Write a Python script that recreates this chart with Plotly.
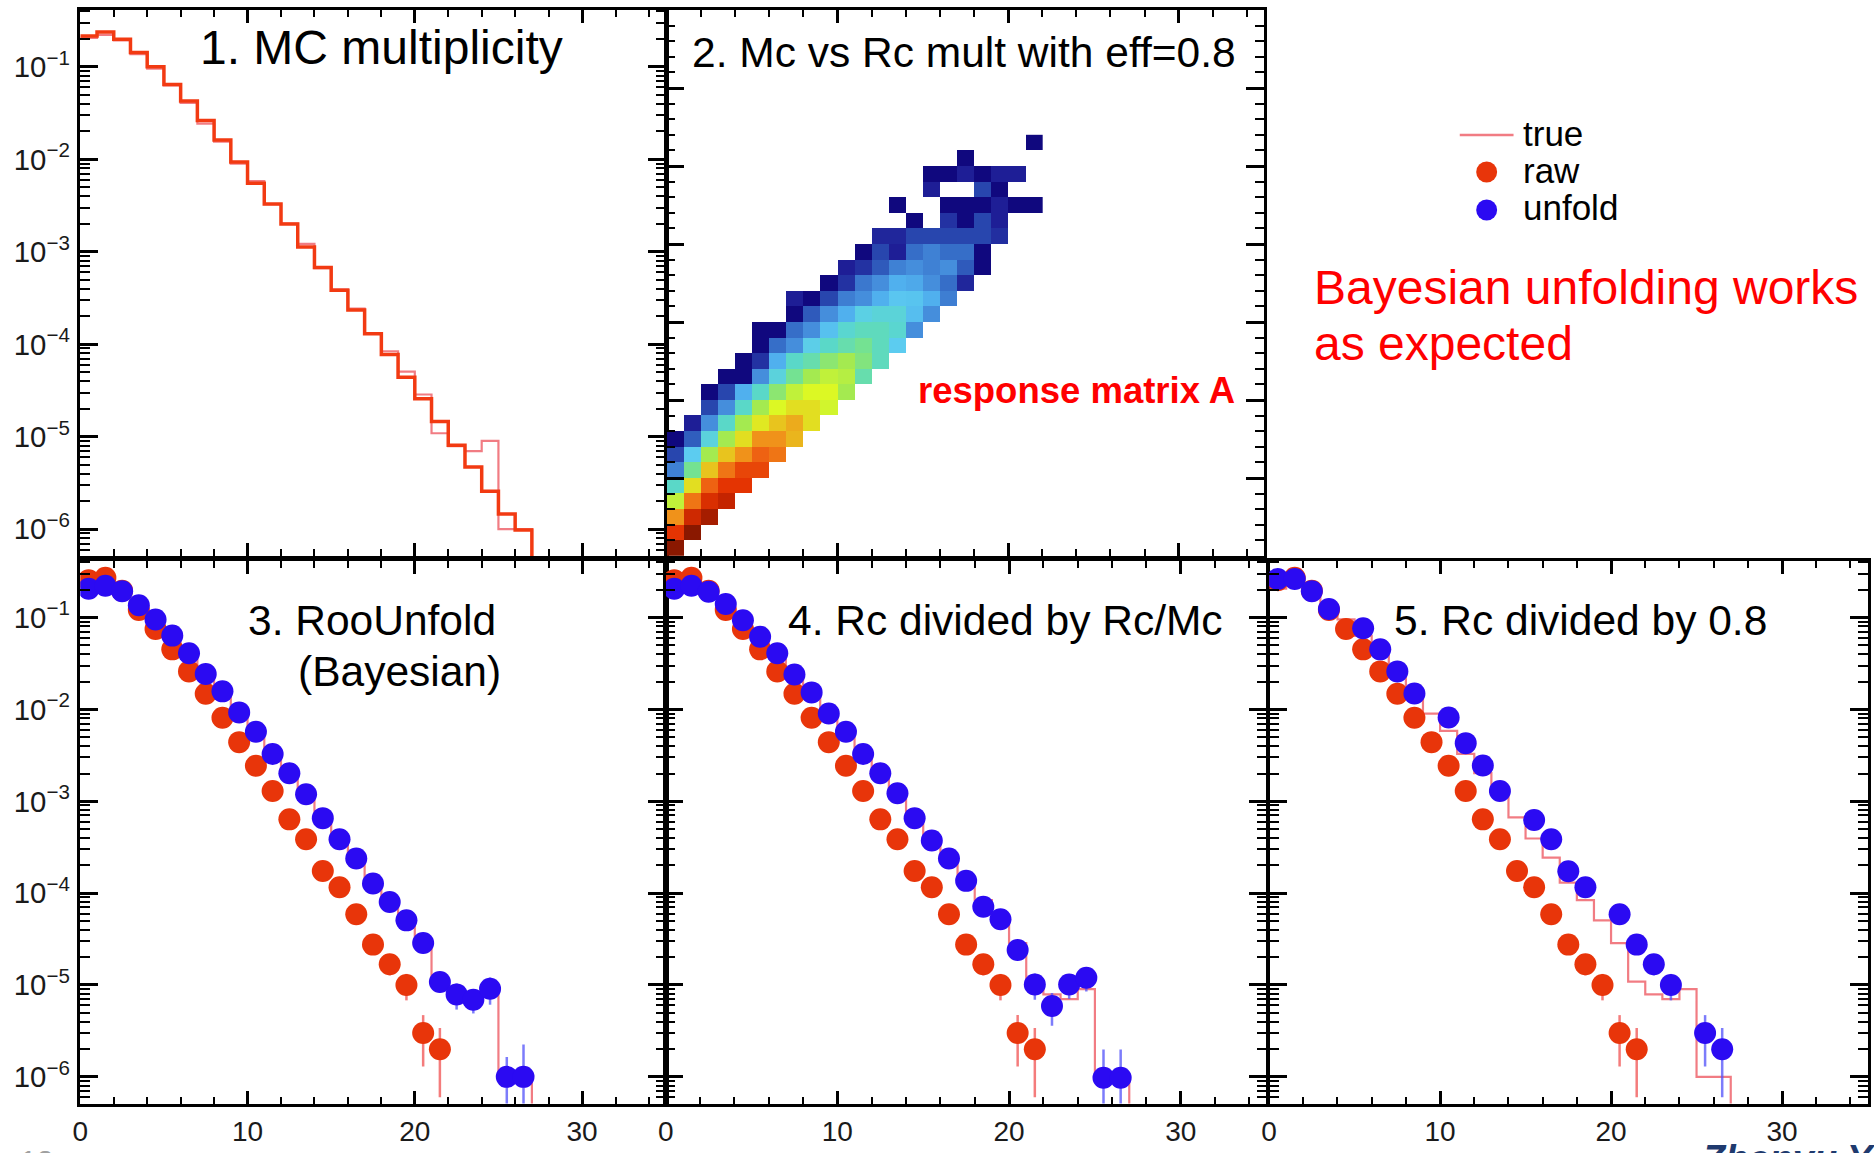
import plotly.graph_objects as go

W, H = 1874, 1153
FONT = "Liberation Sans, Arial, Helvetica, sans-serif"

# ---------------- data ----------------
bins = list(range(27))                       # multiplicity bins 0..26
hist_floor = 1e-9                            # histogram closes below the axis

true_vals = [0.206, 0.222, 0.193, 0.137, 0.0955, 0.0631, 0.0408, 0.0243, 0.0155,
             0.0090, 0.00583, 0.00327, 0.00202, 0.00122, 0.000667, 0.000393,
             0.000243, 0.000130, 8.4e-5, 5.05e-5, 2.86e-5, 1.09e-5, 7.9e-6,
             7.0e-6, 9.0e-6, 1.0e-6, 1.0e-6]

mc_vals = [0.216, 0.238, 0.199, 0.143, 0.100, 0.0646, 0.0427, 0.0263, 0.0162,
           0.00933, 0.0055, 0.00328, 0.0020, 0.00113, 0.000676, 0.000384,
           0.000234, 0.000130, 7.76e-5, 4.41e-5, 2.57e-5, 1.46e-5, 8.1e-6,
           4.7e-6, 2.57e-6, 1.46e-6, 9.8e-7]

raw_bins = list(range(22))
raw_vals = [0.255, 0.270, 0.196, 0.121, 0.0748, 0.0450, 0.0259, 0.0148, 0.0081,
            0.0044, 0.00243, 0.00129, 0.000635, 0.000385, 0.000174, 0.000116,
            5.9e-5, 2.75e-5, 1.68e-5, 1.0e-5, 3.0e-6, 2.0e-6]
raw_err = [5e-4, 5.2e-4, 4.4e-4, 3.5e-4, 2.7e-4, 2.1e-4, 1.6e-4, 1.2e-4, 9e-5,
           6.6e-5, 4.9e-5, 3.6e-5, 2.5e-5, 2e-5, 1.3e-5, 1.1e-5, 7.7e-6, 5.2e-6,
           4.1e-6, 3.2e-6, 1.7e-6, 1.4e-6]

unfold3_vals = [0.206, 0.222, 0.193, 0.136, 0.0953, 0.0635, 0.0408, 0.0243, 0.0157,
                0.00927, 0.00571, 0.00327, 0.00202, 0.00119, 0.000655, 0.000385,
                0.000238, 0.000127, 8.0e-5, 5.05e-5, 2.86e-5, 1.08e-5, 7.9e-6,
                6.9e-6, 9.1e-6, 1.0e-6, 1.0e-6]
unfold3_err = [4.5e-4, 4.7e-4, 4.4e-4, 3.7e-4, 3.1e-4, 2.5e-4, 2e-4, 1.6e-4, 1.25e-4,
               9.6e-5, 7.6e-5, 5.7e-5, 4.5e-5, 3.4e-5, 2.6e-5, 2e-5, 1.5e-5, 1.1e-5,
               9e-6, 7e-6, 5e-6, 2.5e-6, 2.5e-6, 2.0e-6, 3.0e-6, 0.65e-6, 1.25e-6]

unfold4_vals = [0.206, 0.222, 0.191, 0.140, 0.0935, 0.0618, 0.0408, 0.0240, 0.0153,
                0.0090, 0.00571, 0.00327, 0.00202, 0.00122, 0.000655, 0.000374,
                0.000238, 0.000136, 7.1e-5, 5.2e-5, 2.4e-5, 1.01e-5, 5.9e-6,
                1.01e-5, 1.2e-5, 9.8e-7, 9.8e-7]
unfold4_err = [4.5e-4, 4.7e-4, 4.4e-4, 3.7e-4, 3.1e-4, 2.5e-4, 2e-4, 1.6e-4, 1.25e-4,
               9.6e-5, 7.6e-5, 5.7e-5, 4.5e-5, 3.4e-5, 2.6e-5, 2e-5, 1.5e-5, 1.1e-5,
               9e-6, 7e-6, 5e-6, 3.2e-6, 2.3e-6, 3.0e-6, 3.5e-6, 1.0e-6, 1.0e-6]

unfold5_vals = [0.262, 0.262, 0.193, 0.124, None, 0.0764, 0.045, 0.0259, 0.0149, None,
                0.00817, 0.00429, 0.00245, 0.00129, None, 0.000624, 0.000385,
                0.000173, 0.000116, None, 5.9e-5, 2.75e-5, 1.68e-5, 1.0e-5, None,
                3.0e-6, 2.0e-6]
unfold5_err = [5e-4, 5.2e-4, 4.4e-4, 3.5e-4, None, 2.7e-4, 2.1e-4, 1.6e-4, 1.2e-4, None,
               9e-5, 6.6e-5, 4.9e-5, 3.6e-5, None, 2.5e-5, 2e-5, 1.3e-5, 1.1e-5, None,
               7.7e-6, 5.2e-6, 4.1e-6, 3.2e-6, None, 1.7e-6, 1.4e-6]

# response matrix: colour level of each cell (0 = lowest/navy ... 16 = highest/dark red)
rc_bins = list(range(22))   # x: reconstructed multiplicity
mc_bins = list(range(27))   # y: MC multiplicity
N = None
response_rows = [
    [16],
    [14, 16],
    [12, 14.6, 15.5],
    [9.5, 12.6, 14.3, 14.9],
    [7, 10.5, 13, 14, 14],
    [3.6, 8, 11, 12.6, 13.6, 13.6],
    [2, 6, 9, 11, 12, 13, 12.6],
    [0, 2.6, 6.5, 9, 10.5, 12, 12, 11.3],
    [N, 1, 4, 7, 9, 10.3, 11, 11.5, 10.5],
    [N, N, 2, 4, 7, 9, 10, 10.5, 10.5, 9.8],
    [N, N, 0, 2, 5, 7, 8.5, 9.5, 10, 10, 9],
    [N, N, N, 0, 0, 4, 6.5, 8, 9, 9.5, 9.3, 7.5],
    [N, N, N, N, 0, 1.5, 5, 7, 7.5, 8.5, 9, 8.3, 7.2],
    [N, N, N, N, N, 0, 3, 4, 6.2, 7, 7.5, 8, 7.2, 6],
    [N, N, N, N, N, 0, 0, 3, 4, 5.6, 6.8, 7.2, 7.2, 6.8, 4],
    [N, N, N, N, N, N, N, 0, 2.5, 4, 5, 6.3, 6.6, 6.6, 5.5, 4],
    [N, N, N, N, N, N, N, 1, 0, 2, 3.5, 4, 5, 5.8, 5.7, 5, 3.5],
    [N, N, N, N, N, N, N, N, N, 0, 1.5, 3.3, 4, 5, 4.8, 4, 3, 1.2],
    [N, N, N, N, N, N, N, N, N, N, 1, 1.5, 2.5, 3.6, 4, 3.6, 4, 2.5, 0],
    [N, N, N, N, N, N, N, N, N, N, N, 0, 2, 1, 3, 3.6, 3, 3, 0],
    [N, N, N, N, N, N, N, N, N, N, N, N, 1.2, 1.2, 2, 2, 2, 2, 2, 1.4],
    [N, N, N, N, N, N, N, N, N, N, N, N, N, N, 0, N, 1.5, 0, 2, 1],
    [N, N, N, N, N, N, N, N, N, N, N, N, N, 0, N, N, 0, 0, 0, 1, 0, 0],
    [N, N, N, N, N, N, N, N, N, N, N, N, N, N, N, 1, N, N, 2, 0],
    [N, N, N, N, N, N, N, N, N, N, N, N, N, N, N, 0, 0, 1, 0, 1, 1],
    [N, N, N, N, N, N, N, N, N, N, N, N, N, N, N, N, N, 0],
    [N, N, N, N, N, N, N, N, N, N, N, N, N, N, N, N, N, N, N, N, N, 0],
]
palette = ['#10087E', '#1E1E96', '#2846AE', '#366EC8', '#458EDC', '#50B0EE',
           '#5CCCF0', '#5AD8C8', '#74E292', '#A4EA50', '#DCF824', '#E8C41E',
           '#F0921A', '#EE6212', '#E43402', '#C02200', '#8A1800']

x_ticks = [0, 10, 20, 30]

# ---------------- styles ----------------
C_TRUE = 'rgba(236,80,90,0.75)'
C_MC = '#F23A12'
C_RAW = '#E8350A'
C_UNF = '#2B0AF2'
C_RAW_ERR = 'rgba(240,80,80,0.75)'
C_UNF_ERR = 'rgba(80,80,250,0.75)'


def px_x(p):
    return p / W


def px_y(p):
    return 1 - p / H


pad = lambda rows: [r + [None] * (len(rc_bins) - len(r)) for r in rows]
edges = bins + [bins[-1] + 1]
centers = [b + 0.5 for b in bins]
raw_centers = [b + 0.5 for b in raw_bins]

fig = go.Figure()


def step_trace(vals, color, width, xa, ya):
    return go.Scatter(x=edges, y=vals + [hist_floor], mode='lines', line_shape='hv',
                      line=dict(color=color, width=width), xaxis=xa, yaxis=ya,
                      showlegend=False, hoverinfo='skip')


def point_trace(xs, vals, errs, color, ecolor, xa, ya, name):
    return go.Scatter(x=xs, y=vals, mode='markers', name=name,
                      marker=dict(color=color, size=22, line=dict(width=0)),
                      error_y=dict(type='data', array=errs, visible=True, color=ecolor,
                                   thickness=2.5, width=0),
                      xaxis=xa, yaxis=ya, showlegend=False, cliponaxis=True)


# panel 1
fig.add_trace(step_trace(true_vals, C_TRUE, 2.2, 'x', 'y'))
fig.add_trace(step_trace(mc_vals, C_MC, 3.5, 'x', 'y'))

# panel 2 heatmap
n_lv = len(palette) - 1
colorscale = [[i / n_lv, c] for i, c in enumerate(palette)]
fig.add_trace(go.Heatmap(x=[c + 0.5 for c in rc_bins], y=[m + 0.5 for m in mc_bins],
                         z=pad(response_rows), colorscale=colorscale, zmin=0, zmax=n_lv,
                         showscale=False, xaxis='x2', yaxis='y2', hoverinfo='skip'))

# panels 3-5
for xa, ya, uvals, uerr, ux in [('x3', 'y3', unfold3_vals, unfold3_err, centers),
                                ('x4', 'y4', unfold4_vals, unfold4_err, centers),
                                ('x5', 'y5', unfold5_vals, unfold5_err, centers)]:
    fig.add_trace(step_trace(true_vals, C_TRUE, 2.2, xa, ya))
    fig.add_trace(point_trace(raw_centers, raw_vals, raw_err, C_RAW, C_RAW_ERR, xa, ya, 'raw'))
    fig.add_trace(point_trace(ux, uvals, uerr, C_UNF, C_UNF_ERR, xa, ya, 'unfold'))

# ---------------- axes ----------------
top_dom = [px_y(556), px_y(10)]
bot_dom = [px_y(1103.5), px_y(561)]
d1 = [px_x(72.6), px_x(660.5)]
d2 = [px_x(661.5), px_x(1261.5)]
d4 = [px_x(660.5), px_x(1264)]
d5 = [px_x(1266.5), px_x(1867.5)]


def xax(domain, anchor, labels):
    return dict(domain=domain, anchor=anchor, range=[0, 35], showgrid=False, zeroline=False,
                showline=True, linecolor='black', linewidth=2.5, mirror='ticks',
                ticks='inside', ticklen=13, tickwidth=2.5, tickcolor='black',
                tickmode='array', tickvals=x_ticks, ticktext=[str(t) for t in x_ticks],
                showticklabels=labels, ticklabelstandoff=1,
                tickfont=dict(family=FONT, size=28, color='#1a1a1a'),
                minor=dict(ticks='inside', ticklen=7, tickwidth=2, tickcolor='black',
                           dtick=2, tick0=0, showgrid=False),
                fixedrange=True)


def ylog(domain, anchor, labels):
    return dict(domain=domain, anchor=anchor, type='log', range=[-6.29, -0.385],
                showgrid=False, zeroline=False, showline=True, linecolor='black',
                linewidth=2.5, mirror='ticks', ticks='inside', ticklen=18, tickwidth=2.5,
                tickcolor='black', dtick=1, exponentformat='power',
                showticklabels=labels, ticklabelstandoff=3,
                tickfont=dict(family=FONT, size=23.5, color='#1a1a1a'),
                minor=dict(ticks='inside', ticklen=10, tickwidth=2, tickcolor='black',
                           dtick='D1', showgrid=False),
                fixedrange=True)


fig.update_layout(
    xaxis=xax(d1, 'y', False), yaxis=ylog(top_dom, 'x', True),
    xaxis2=xax(d2, 'y2', False),
    yaxis2=dict(domain=top_dom, anchor='x2', range=[0, 35], showgrid=False, zeroline=False,
                showline=True, linecolor='black', linewidth=2.5, mirror='ticks',
                ticks='inside', ticklen=18, tickwidth=2.5, tickcolor='black', dtick=5,
                showticklabels=False,
                minor=dict(ticks='inside', ticklen=9, tickwidth=2, tickcolor='black',
                           dtick=1, showgrid=False), fixedrange=True),
    xaxis3=xax(d1, 'y3', True), yaxis3=ylog(bot_dom, 'x3', True),
    xaxis4=xax(d4, 'y4', True), yaxis4=ylog(bot_dom, 'x4', False),
    xaxis5=xax(d5, 'y5', True), yaxis5=ylog(bot_dom, 'x5', False),
)

# ---------------- text ----------------
def txt(text, x, y, size, color='black', xanchor='center', bold=False, italic=False):
    return dict(text=text, x=px_x(x), y=px_y(y), xref='paper', yref='paper',
                xanchor=xanchor, yanchor='middle', showarrow=False,
                font=dict(family=FONT, size=size, color=color,
                          weight='bold' if bold else 'normal',
                          style='italic' if italic else 'normal'))


annotations = [
    txt('1. MC multiplicity', 375, 48, 48),
    txt('2. Mc vs Rc mult with eff=0.8', 960, 52, 42.5),
    txt('response matrix A', 1073, 391, 36.5, color='#FF0000', bold=True),
    txt('3. RooUnfold', 366, 620, 42.5),
    txt('(Bayesian)', 393, 671, 42.5),
    txt('4. Rc divided by Rc/Mc', 1002, 620, 42.5),
    txt('5. Rc divided by 0.8', 1579, 620, 42.5),
    txt('Bayesian unfolding works', 1310, 287, 48, color='#FF0000', xanchor='left'),
    txt('as expected', 1310, 343, 48, color='#FF0000', xanchor='left'),
    txt('true', 1519, 133, 35, xanchor='left'),
    txt('raw', 1519, 170, 35, xanchor='left'),
    txt('unfold', 1519, 207, 35, xanchor='left'),
    txt('Zhenyu Ye', 1698, 1159, 38, color='#1F3A6E', xanchor='left', bold=True, italic=True),
    txt('12', 10, 1160, 30, color='#A0A0A0', xanchor='left'),
]

r = 10.5
shapes = [
    dict(type='line', xref='paper', yref='paper', x0=px_x(1458), x1=px_x(1512),
         y0=px_y(135), y1=px_y(135), line=dict(color=C_TRUE, width=2.5)),
    dict(type='circle', xref='paper', yref='paper', x0=px_x(1485 - r), x1=px_x(1485 + r),
         y0=px_y(172 + r), y1=px_y(172 - r), fillcolor=C_RAW, line=dict(width=0)),
    dict(type='circle', xref='paper', yref='paper', x0=px_x(1485 - r), x1=px_x(1485 + r),
         y0=px_y(210 + r), y1=px_y(210 - r), fillcolor=C_UNF, line=dict(width=0)),
]

fig.update_layout(width=W, height=H, margin=dict(l=0, r=0, t=0, b=0, pad=0),
                  paper_bgcolor='white', plot_bgcolor='white', showlegend=False,
                  annotations=annotations, shapes=shapes,
                  font=dict(family=FONT, color='black'))

fig.write_html("out.html", config={'displayModeBar': False},
               post_script="document.body.style.margin='0';document.body.style.overflow='hidden';")
